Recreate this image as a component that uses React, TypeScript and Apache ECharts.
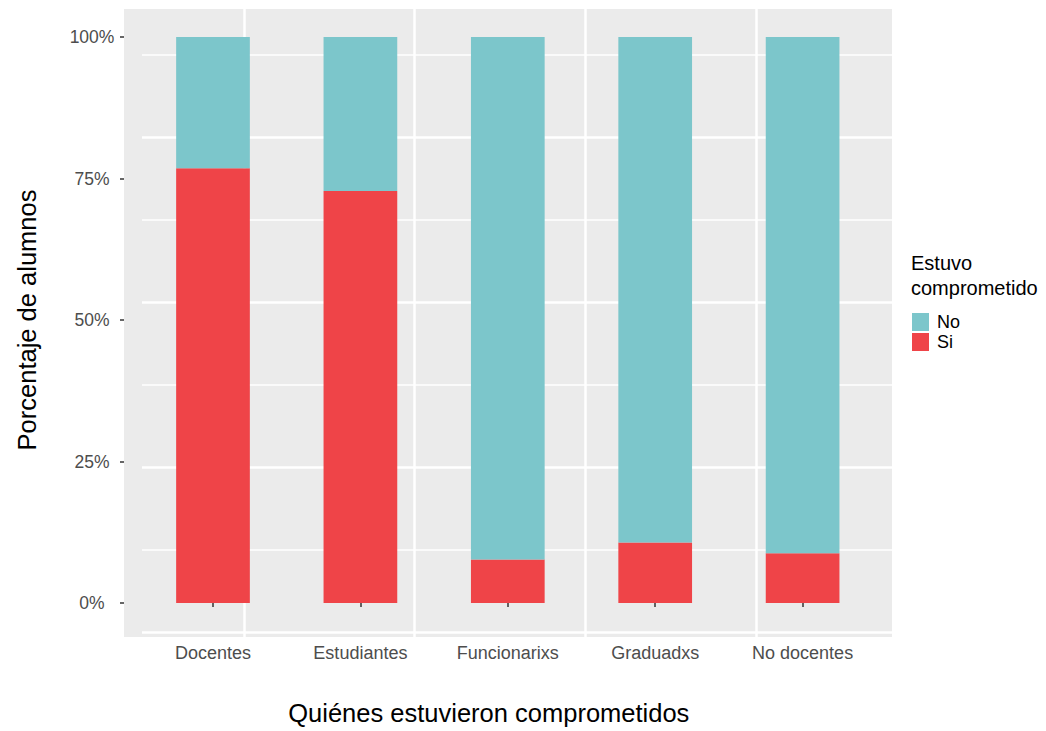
import React, { useEffect, useRef } from "react";
import * as echarts from "echarts";

const categories = ["Docentes", "Estudiantes", "Funcionarixs", "Graduadxs", "No docentes"];
const siValues = [76.8, 72.8, 7.7, 10.7, 8.8];
const noValues = [23.2, 27.2, 92.3, 89.3, 91.2];
const yTicks = [0, 25, 50, 75, 100];
const legendNames = ["No", "Si"];

const FONT = "'Liberation Sans', Arial, Helvetica, sans-serif";
const TEAL = "#7CC6CB";
const RED = "#EF4448";
const PANEL = "#EBEBEB";

export default function App() {
  const ref = useRef<HTMLDivElement>(null);
  useEffect(() => {
    if (!ref.current) return;
    const chart = echarts.init(ref.current, undefined, { renderer: "svg" });
    const hiddenAxis = (gridIndex: number) => ({ gridIndex, type: "value", show: false });
    const lineAxis = (gridIndex: number, width: number) => ({
      gridIndex,
      type: "value",
      min: 0,
      max: 3,
      interval: 1,
      z: 1,
      axisLine: { show: false },
      axisTick: { show: false },
      axisLabel: { show: false },
      splitLine: { show: true, lineStyle: { color: "#FFFFFF", width, type: "solid" } },
    });
    chart.setOption({
      animation: false,
      backgroundColor: "#FFFFFF",
      textStyle: { fontFamily: FONT },
      title: {
        text: "Estuvo\ncomprometido",
        left: 911,
        top: 250,
        padding: 0,
        textStyle: { fontSize: 20, fontWeight: "normal", color: "#000000", lineHeight: 25, fontFamily: FONT },
      },
      legend: {
        data: legendNames,
        orient: "vertical",
        left: 912,
        top: 313,
        padding: 0,
        itemWidth: 17,
        itemHeight: 18,
        itemGap: 2,
        icon: "rect",
        selectedMode: false,
        textStyle: { fontSize: 18, color: "#000000", fontFamily: FONT, padding: [0, 0, 0, 3] },
      },
      grid: [
        { left: 139.3, top: 37, width: 737, height: 570, show: false },
        { left: 124, top: 9, width: 768, height: 628, show: true, backgroundColor: PANEL, borderWidth: 0, z: -5 },
        { left: 142, top: 55, width: 750, height: 495, show: false },
        { left: 142, top: 137.5, width: 750, height: 495, show: false },
        { left: 244, top: 9, width: 512, height: 628, show: false },
      ],
      xAxis: [
        {
          gridIndex: 0,
          type: "category",
          data: categories,
          offset: 30,
          z: 3,
          axisLine: { show: false },
          axisTick: { show: true, alignWithLabel: true, length: 4, lineStyle: { color: "#333333", width: 1.5 } },
          axisLabel: { fontSize: 18, color: "#4D4D4D", margin: 11, fontFamily: FONT },
          splitLine: { show: false },
          name: "Quiénes estuvieron comprometidos",
          nameLocation: "middle",
          nameGap: 67,
          nameTextStyle: { fontSize: 25.5, color: "#000000", fontFamily: FONT, padding: [0, 38, 0, 0] },
        },
        hiddenAxis(1),
        hiddenAxis(2),
        hiddenAxis(3),
        lineAxis(4, 2.5),
      ],
      yAxis: [
        {
          gridIndex: 0,
          type: "value",
          min: yTicks[0],
          max: yTicks[yTicks.length - 1],
          interval: 25,
          offset: 15.3,
          z: 3,
          axisLine: { show: false },
          axisTick: { show: true, length: 4, lineStyle: { color: "#333333", width: 1.5 } },
          axisLabel: { fontSize: 17.5, color: "#4D4D4D", margin: 32, align: "center", formatter: "{value}%", fontFamily: FONT },
          splitLine: { show: false },
          name: "Porcentaje de alumnos",
          nameLocation: "middle",
          nameGap: 84,
          nameTextStyle: { fontSize: 25.5, color: "#000000", fontFamily: FONT },
        },
        hiddenAxis(1),
        lineAxis(2, 1.6),
        lineAxis(3, 2.6),
        hiddenAxis(4),
      ],
      series: [
        {
          name: "Si",
          type: "bar",
          stack: "total",
          xAxisIndex: 0,
          yAxisIndex: 0,
          barWidth: "50%",
          itemStyle: { color: RED },
          data: siValues,
        },
        {
          name: "No",
          type: "bar",
          stack: "total",
          xAxisIndex: 0,
          yAxisIndex: 0,
          barWidth: "50%",
          itemStyle: { color: TEAL },
          data: noValues,
        },
      ],
    });
    return () => chart.dispose();
  }, []);
  return (
    <div
      ref={ref}
      style={{ position: "fixed", left: 0, top: 0, width: 1046, height: 731 }}
    />
  );
}
